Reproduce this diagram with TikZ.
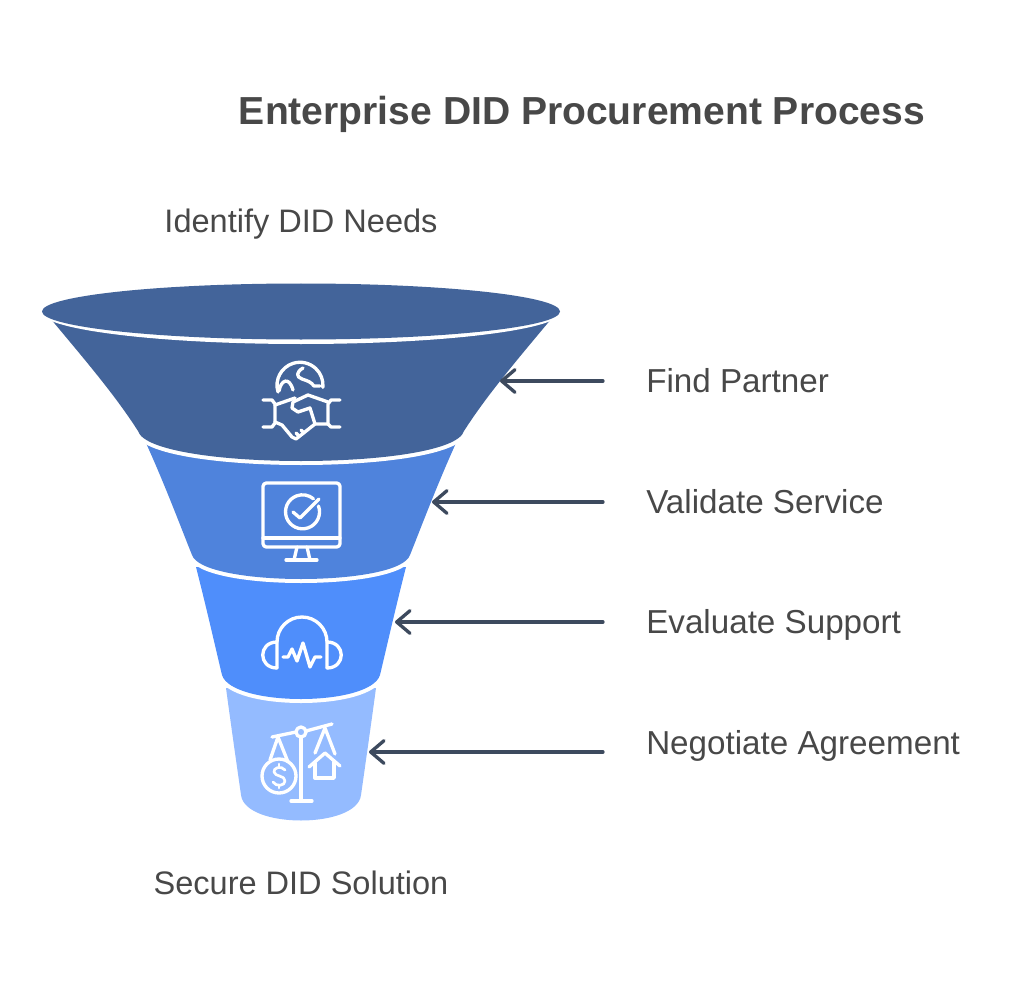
\documentclass[tikz,border=0pt]{standalone}
\usepackage{fontspec}
\setmainfont{Liberation Sans}
\usepackage{xcolor}
\usetikzlibrary{arrows.meta, positioning}
\definecolor{tierone}{HTML}{43649A}
\definecolor{tiertwo}{HTML}{4F83DC}
\definecolor{tierthree}{HTML}{4F8EFB}
\definecolor{tierfour}{HTML}{94BBFF}
\definecolor{inktext}{HTML}{484848}
\definecolor{inkarrow}{HTML}{3D4A5E}

\begin{document}
\begin{tikzpicture}[
    x=0.75pt,
    y=-0.75pt,
    % Labels
    title/.style={font=\fontsize{29.3pt}{33pt}\selectfont\bfseries, text=inktext, inner sep=0pt, anchor=base},
    label/.style={font=\fontsize{24.9pt}{29pt}\selectfont, text=inktext, inner sep=0pt, anchor=base west},
    endlabel/.style={font=\fontsize{24.4pt}{29pt}\selectfont, text=inktext, inner sep=0pt, anchor=base},
    % Connectors
    pointer/.style={draw=inkarrow, line width=2.5pt, line cap=round, -{Straight Barb[length=10pt, width=17pt, line width=2.5pt, round]}},
    % Funnel
    gapline/.style={draw=white, line width=6pt},
    % Icons
    icon/.style={draw=white, line width=2.5pt, line cap=round, line join=round}
]
    \useasboundingbox (0,0) rectangle (1024,984);

    % Title
    \node[title] (heading) at (582,124.5) {Enterprise DID Procurement Process};

    % Funnel, drawn from the bottom tier upwards
    \fill[tierfour] (226,688) .. controls (231,725) and (236,760) .. (241,795)
        .. controls (245,829) and (357,829) .. (361,795)
        .. controls (366,760) and (371,725) .. (376,688) -- cycle;
    \draw[gapline] (222,675) .. controls (232,707) and (370,707) .. (380,675);
    \fill[tierthree] (196,567) .. controls (207,610) and (216,650) .. (222,675)
        .. controls (232,707) and (370,707) .. (380,675)
        .. controls (386,650) and (395,610) .. (406,567) -- cycle;
    \draw[gapline] (192,555) .. controls (203,587) and (399,587) .. (410,555);
    \fill[tiertwo] (146,443) .. controls (165,485) and (180,525) .. (192,555)
        .. controls (203,587) and (399,587) .. (410,555)
        .. controls (422,525) and (437,485) .. (456,443) -- cycle;
    \draw[gapline] (138,431) .. controls (150,471) and (452,471) .. (464,431);
    \fill[tierone] (50,318) .. controls (85,360) and (115,395) .. (138,431)
        .. controls (150,471) and (452,471) .. (464,431)
        .. controls (487,395) and (517,360) .. (552,318) -- cycle;
    \fill[white] (301,311.5) ellipse [x radius=261, y radius=32.5];
    \fill[tierone] (301,311.5) ellipse [x radius=259, y radius=28];

    % Handshake icon
    \draw[icon] (278,392) arc [start angle=197, end angle=-5, x radius=23, y radius=-23];
    \draw[icon] (279,391) .. controls (281,380) and (289,376) .. (293,390);
    \draw[icon] (303,368) .. controls (296,372) and (296,377) .. (302,379) .. controls (308,381) and (311,382) .. (314,386) -- (320,386);
    \draw[icon] (263,400) -- (272,400) -- (275,404) -- (275,423) -- (272,427) -- (263,427);
    \draw[icon] (340,400) -- (331,400) -- (328,404) -- (328,424) -- (331,427) -- (340,427);
    \draw[icon] (275,405) -- (295,398);
    \draw[icon] (328,402) -- (308,395) -- (293,402) -- (292,408) -- (298,412) -- (310,408) -- (315,424);
    \draw[icon] (328,424) -- (315,424) -- (296,439) -- (292,437) -- (282,425) -- (275,422);
    \draw[icon] (296,433) -- (299,436);
    \draw[icon] (301,430) -- (304,433);

    % Monitor icon
    \draw[icon, rounded corners=2.5pt] (263,483) rectangle (340,547);
    \draw[icon] (263,538) -- (340,538);
    \draw[icon] (297,547) -- (294,560);
    \draw[icon] (307,547) -- (310,560);
    \draw[icon] (286,560) -- (317,560);
    \draw[icon] (318.5,506) arc [start angle=20, end angle=-310, x radius=17, y radius=-17];
    \draw[icon] (293,512) -- (300,518) -- (319,499);

    % Headset icon
    \draw[icon] (277,668) -- (277,642) arc [start angle=180, end angle=0, x radius=25, y radius=-25] -- (327,668);
    \draw[icon] (277,642) .. controls (258,642) and (258,668) .. (277,668);
    \draw[icon] (327,642) .. controls (346,642) and (346,668) .. (327,668);
    \draw[icon] (283,657) -- (288,657) -- (292,649) -- (297,661) -- (303,643) -- (310,667) -- (315,657) -- (321,657);

    % Scale icon
    \draw[icon] (272,737) -- (296,732);
    \draw[icon] (306,731) -- (332,724);
    \draw[icon] (301,732) circle [radius=5];
    \draw[icon] (301,737) -- (301,801);
    \draw[icon] (291,801) -- (312,801);
    \draw[icon] (278,737) -- (270,760);
    \draw[icon] (278,737) -- (288,762);
    \draw[icon] (279,776) circle [radius=17];
    \draw[icon, line width=2pt] (285,770) .. controls (281,765) and (273,768) .. (274,772)
        .. controls (275,777) and (285,775) .. (285,781) .. controls (285,786) and (276,787) .. (273,782);
    \draw[icon, line width=2pt] (279,764) -- (279,767);
    \draw[icon, line width=2pt] (279,785) -- (279,788);
    \draw[icon] (325,728) -- (315,753);
    \draw[icon] (325,728) -- (335,754);
    \draw[icon] (309,767) -- (325,753) -- (340,766);
    \draw[icon] (315,763) -- (315,778) -- (334,778) -- (334,762);

    % End labels
    \node[endlabel] (needs) at (301,232.5) {Identify DID Needs};
    \node[endlabel] (solution) at (301,894.5) {Secure DID Solution};

    % Side labels
    \node[label] (partner) at (646,392.5) {Find Partner};
    \node[label] (service) at (646,513) {Validate Service};
    \node[label] (support) at (646,633.5) {Evaluate Support};
    \node[label] (agreement) at (646,754) {Negotiate Agreement};

    % Connectors
    \coordinate (tailpartner) at (603,381);
    \coordinate (tippartner) at (500,381);
    \coordinate (tailservice) at (603,502);
    \coordinate (tipservice) at (432,502);
    \coordinate (tailsupport) at (603,622);
    \coordinate (tipsupport) at (395,622);
    \coordinate (tailagreement) at (603,752);
    \coordinate (tipagreement) at (369,752);
    \draw[pointer] (tailpartner) -- (tippartner);
    \draw[pointer] (tailservice) -- (tipservice);
    \draw[pointer] (tailsupport) -- (tipsupport);
    \draw[pointer] (tailagreement) -- (tipagreement);
\end{tikzpicture}
\end{document}
